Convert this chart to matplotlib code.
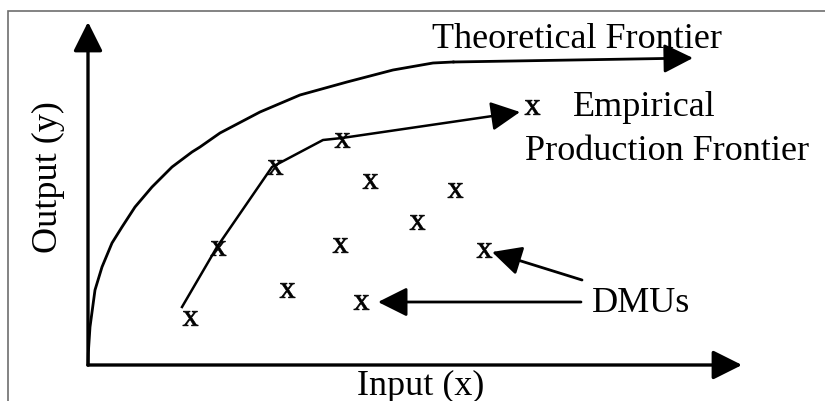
import matplotlib.pyplot as plt
from matplotlib.patches import Rectangle

plt.rcParams['font.family'] = ['Liberation Serif', 'DejaVu Serif']
plt.rcParams['mathtext.fontset'] = 'custom'
plt.rcParams['mathtext.rm'] = 'Liberation Serif'

# units: input to the right, output upward (origin where the axes meet)
theo_x = [0, 0.3, 2, 7, 14, 24, 34, 47, 64, 84, 104, 112, 132, 172, 212, 259, 305, 345, 365]
theo_y = [0, 12, 38, 75, 98, 122, 138, 158, 178, 198, 213, 218, 232, 253, 270, 283, 295, 302, 303]
theo_tip = (605, 307)

emp_x = [94, 129, 184, 235, 254]
emp_y = [58, 118, 198, 225, 227]
emp_tip = (432, 253)

dmu_x = [102, 130, 187, 254, 282, 252, 199, 273, 329, 367, 396, 444]
dmu_y = [47, 117, 198, 225, 184, 120, 75, 63, 143, 175, 115, 258]

labels = ['Theoretical Frontier', 'Empirical', 'Production Frontier', 'DMUs']

fig = plt.figure(figsize=(8.25, 4.01), dpi=100)
ax = fig.add_axes([0, 0, 1, 1])
ax.set_xlim(-88, 737)
ax.set_ylim(-36, 365)
ax.axis('off')

# frame of the scan
fig.patches.append(Rectangle((8 / 825, -0.1), 1.2, 1 - 11 / 401 + 0.1,
                             transform=fig.transFigure, fill=False,
                             edgecolor='#6e6e6e', lw=1.2))

arrow = dict(arrowstyle='-|>,head_length=0.9,head_width=0.45', color='black',
             mutation_scale=20, shrinkA=0, shrinkB=0)

# axes
ax.annotate('', xy=(0, 343), xytext=(0, 0), arrowprops=dict(arrow, lw=2.4))
ax.annotate('', xy=(654, 0), xytext=(0, 0), arrowprops=dict(arrow, lw=2.4))

# theoretical frontier
ax.plot(theo_x, theo_y, color='black', lw=2.0, solid_joinstyle='round')
ax.annotate('', xy=theo_tip, xytext=(theo_x[-1], theo_y[-1]),
            arrowprops=dict(arrow, lw=2.0))

# empirical frontier
ax.plot(emp_x, emp_y, color='black', lw=1.8, solid_joinstyle='round')
ax.annotate('', xy=emp_tip, xytext=(emp_x[-1], emp_y[-1]),
            arrowprops=dict(arrow, lw=1.8))

# DMUs
ax.plot(dmu_x, dmu_y, ls='none', marker=r'$\mathrm{x}$', ms=11, mew=0.5,
        color='black')

# DMU pointers
ax.annotate('', xy=(dmu_x[7] + 17, dmu_y[7]), xytext=(493, dmu_y[7]),
            arrowprops=dict(arrow, lw=2.0))
ax.annotate('', xy=(dmu_x[10] + 8, dmu_y[10] - 2), xytext=(494, 85),
            arrowprops=dict(arrow, lw=2.0))

ax.text(432 - 88, 365 - 40, labels[0], fontsize=26, ha='left', va='center')
ax.text(573 - 88, 365 - 107, labels[1], fontsize=26, ha='left', va='center')
ax.text(525 - 88, 365 - 152, labels[2], fontsize=26, ha='left', va='center')
ax.text(592 - 88, 365 - 303, labels[3], fontsize=26, ha='left', va='center')
ax.text(421 - 88, 365 - 386, 'Input (x)', fontsize=26, ha='center', va='center')
ax.text(48 - 88, 365 - 177, 'Output (y)', fontsize=26, ha='center',
        va='center', rotation=90)

fig.savefig('out.png', dpi=100)
